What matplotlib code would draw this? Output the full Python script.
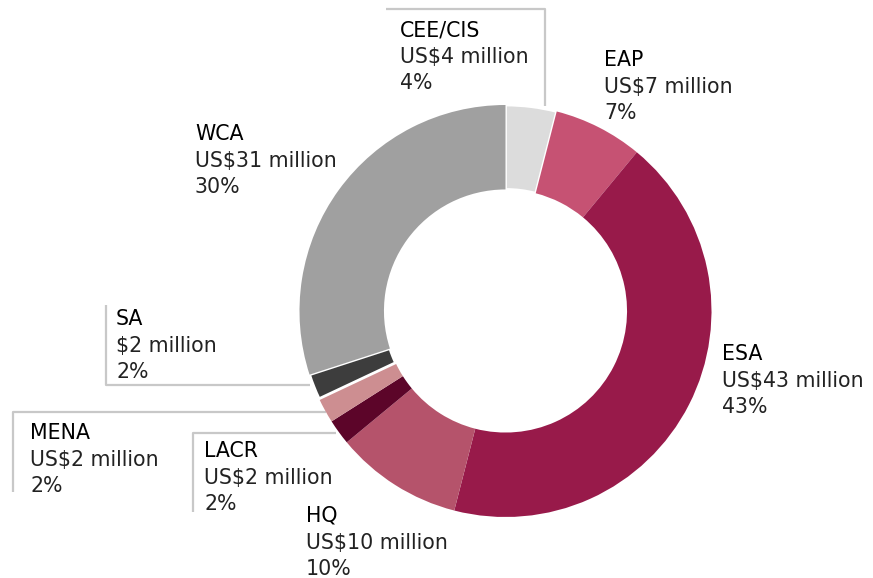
import matplotlib
matplotlib.use('Agg')
import matplotlib.pyplot as plt

# regions, clockwise from top
regions = ['CEE/CIS', 'EAP', 'ESA', 'HQ', 'LACR', 'MENA', 'SA', 'WCA']
amounts = ['US$4 million', 'US$7 million', 'US$43 million', 'US$10 million',
           'US$2 million', 'US$2 million', '$2 million', 'US$31 million']
shares = [4, 7, 43, 10, 2, 2, 2, 30]
colors = ['#DCDCDC', '#C65273', '#981A4A', '#B5536B',
          '#5C0529', '#CD8E91', '#3D3D3D', '#A0A0A0']

W, H = 873, 578
fig = plt.figure(figsize=(W / 100, H / 100), dpi=100)
ax = fig.add_axes([0, 0, 1, 1])

cx, cy, r = 505.5, H - 311, 206
wedges, _ = ax.pie(shares, colors=colors, startangle=90, counterclock=False,
                   center=(cx, cy), radius=r, frame=True,
                   wedgeprops=dict(width=r * 0.41, linewidth=0))
# white separators only around CEE/CIS and SA
for i in (0, 6):
    wedges[i].set_edgecolor('white')
    wedges[i].set_linewidth(2)
ax.set_xlim(0, W)
ax.set_ylim(0, H)
ax.set_aspect('equal')
ax.axis('off')

# label positions: left x, baseline of first line (pixels from top)
label_pos = {
    'CEE/CIS': (400, 36), 'EAP': (604, 66), 'ESA': (722, 360),
    'HQ': (306, 522), 'LACR': (204, 457), 'MENA': (30, 439),
    'SA': (116, 325), 'WCA': (195, 140),
}
fs = 14.8
step = 26.6
font = 'DejaVu Sans'
for name, amt, pct in zip(regions, amounts, shares):
    x, yb = label_pos[name]
    ax.text(x, H - yb, name, fontsize=fs, family=font,
            color='#000000', va='baseline')
    ax.text(x, H - yb - step, amt, fontsize=fs, family=font,
            color='#222222', va='baseline')
    ax.text(x, H - yb - 2 * step, f'{pct}%', fontsize=fs, family=font,
            color='#222222', va='baseline')

# bracket leader lines (pixel coordinates from top)
lc = '#C8C8C8'
brackets = [
    [(386, 9), (545, 9), (545, 106)],
    [(106, 305), (106, 385), (310, 385)],
    [(13, 492), (13, 412), (326, 412)],
    [(193, 512), (193, 433), (336, 433)],
]
for pts in brackets:
    xs = [p[0] for p in pts]
    ys = [H - p[1] for p in pts]
    ax.plot(xs, ys, color=lc, linewidth=1.6, solid_capstyle='butt', zorder=0)

fig.savefig('out.png', dpi=100)
